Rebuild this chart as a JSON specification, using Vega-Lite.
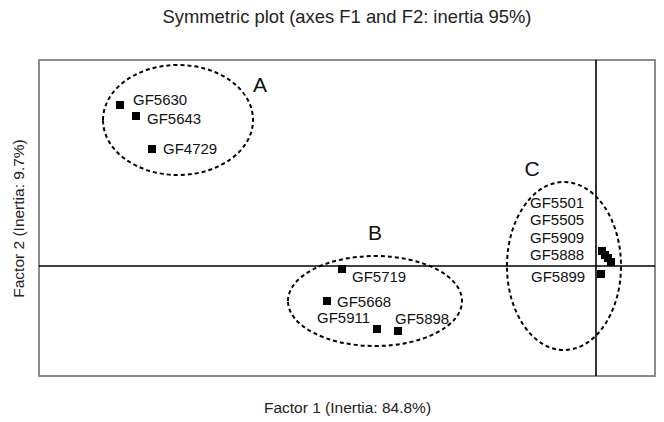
{
  "$schema": "https://vega.github.io/schema/vega-lite/v6.json",
  "width": 616,
  "height": 316,
  "autosize": {"type": "none"},
  "padding": {"left": 39, "top": 60, "right": 9, "bottom": 46},
  "background": "white",
  "config": {
    "font": "Liberation Sans",
    "view": {"stroke": "#8c8c8c", "strokeWidth": 2},
    "title": {"fontSize": 18.4, "fontWeight": "normal", "color": "#222222", "offset": 33}
  },
  "title": {"text": "Symmetric plot (axes F1 and F2: inertia 95%)", "anchor": "middle"},
  "datasets": {
    "points": [
      {"name": "GF5630", "x": -4.76, "y": 1.61},
      {"name": "GF5643", "x": -4.6, "y": 1.5},
      {"name": "GF4729", "x": -4.44, "y": 1.17},
      {"name": "GF5719", "x": -2.54, "y": -0.03},
      {"name": "GF5668", "x": -2.69, "y": -0.35},
      {"name": "GF5911", "x": -2.19, "y": -0.63},
      {"name": "GF5898", "x": -1.98, "y": -0.65},
      {"name": "GF5501", "x": 0.06, "y": 0.15},
      {"name": "GF5505", "x": 0.09, "y": 0.11},
      {"name": "GF5909", "x": 0.12, "y": 0.08},
      {"name": "GF5888", "x": 0.15, "y": 0.04},
      {"name": "GF5899", "x": 0.05, "y": -0.08}
    ],
    "labels": [
      {"name": "GF5630", "x": -4.63, "y": 1.66},
      {"name": "GF5643", "x": -4.49, "y": 1.47},
      {"name": "GF4729", "x": -4.33, "y": 1.17},
      {"name": "GF5719", "x": -2.44, "y": -0.11},
      {"name": "GF5668", "x": -2.59, "y": -0.36},
      {"name": "GF5911", "x": -2.79, "y": -0.52},
      {"name": "GF5898", "x": -2.01, "y": -0.53},
      {"name": "GF5501", "x": -0.66, "y": 0.63},
      {"name": "GF5505", "x": -0.66, "y": 0.46},
      {"name": "GF5909", "x": -0.66, "y": 0.28},
      {"name": "GF5888", "x": -0.66, "y": 0.11},
      {"name": "GF5899", "x": -0.65, "y": -0.11}
    ],
    "clusters": [
      {"cluster": "A", "x": -4.18, "y": 1.46, "lx": -3.36, "ly": 1.8},
      {"cluster": "B", "x": -2.21, "y": -0.35, "lx": -2.21, "ly": 0.32},
      {"cluster": "C", "x": -0.32, "y": 0.0, "lx": -0.64, "ly": 0.96}
    ],
    "origin": [{"zero": 0}]
  },
  "layer": [
    {
      "data": {"name": "points"},
      "mark": {"type": "point", "shape": "square", "filled": true, "color": "black", "size": 64, "opacity": 1},
      "encoding": {
        "x": {"field": "x", "type": "quantitative", "scale": {"domain": [-5.57, 0.59], "nice": false, "zero": false},
          "axis": {"title": "Factor 1 (Inertia: 84.8%)", "labels": false, "ticks": false, "domain": false, "grid": false, "titleFontSize": 15.5, "titleFontWeight": "normal", "titleColor": "#222222", "titlePadding": 24}},
        "y": {"field": "y", "type": "quantitative", "scale": {"domain": [-1.1, 2.06], "nice": false, "zero": false},
          "axis": {"title": "Factor 2 (Inertia: 9.7%)", "labels": false, "ticks": false, "domain": false, "grid": false, "titleFontSize": 15.5, "titleFontWeight": "normal", "titleColor": "#222222", "titlePadding": 13}}
      }
    },
    {
      "data": {"name": "origin"},
      "mark": {"type": "rule", "color": "black", "strokeWidth": 1.6},
      "encoding": {"x": {"field": "zero", "type": "quantitative"}}
    },
    {
      "data": {"name": "origin"},
      "mark": {"type": "rule", "color": "black", "strokeWidth": 1.6},
      "encoding": {"y": {"field": "zero", "type": "quantitative"}}
    },
    {
      "data": {"name": "labels"},
      "mark": {"type": "text", "align": "left", "baseline": "middle", "fontSize": 15, "color": "#111111"},
      "encoding": {
        "x": {"field": "x", "type": "quantitative"},
        "y": {"field": "y", "type": "quantitative"},
        "text": {"field": "name"}
      }
    },
    {
      "data": {"name": "clusters"},
      "mark": {"type": "point", "filled": false, "color": "black", "strokeWidth": 2, "strokeDash": [4, 3], "size": 40000, "opacity": 1},
      "encoding": {
        "x": {"field": "x", "type": "quantitative"},
        "y": {"field": "y", "type": "quantitative"},
        "shape": {"field": "cluster", "type": "nominal", "legend": null,
          "scale": {"domain": ["A", "B", "C"], "range": [
            "M-0.75,0A0.75,0.55,0,1,1,0.75,0A0.75,0.55,0,1,1,-0.75,0Z",
            "M-0.87,0A0.87,0.45,0,1,1,0.87,0A0.87,0.45,0,1,1,-0.87,0Z",
            "M-0.57,0A0.57,0.84,0,1,1,0.57,0A0.57,0.84,0,1,1,-0.57,0Z"
          ]}}
      }
    },
    {
      "data": {"name": "clusters"},
      "mark": {"type": "text", "align": "center", "baseline": "middle", "fontSize": 21, "color": "#111111"},
      "encoding": {
        "x": {"field": "lx", "type": "quantitative"},
        "y": {"field": "ly", "type": "quantitative"},
        "text": {"field": "cluster"}
      }
    }
  ]
}
